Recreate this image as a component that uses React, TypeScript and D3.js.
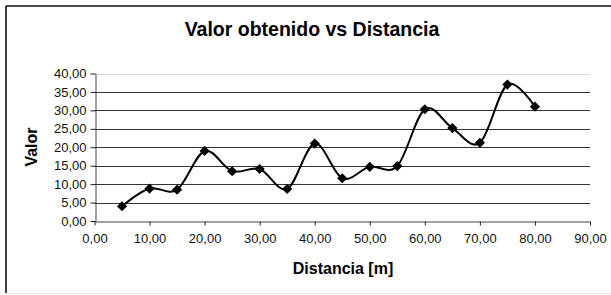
import { useEffect, useRef } from "react";
import * as d3 from "d3";

const distancias = [5, 10, 15, 20, 25, 30, 35, 40, 45, 50, 55, 60, 65, 70, 75, 80];
const valores = [4.0, 8.8, 8.5, 19.0, 13.5, 14.1, 8.7, 21.0, 11.6, 14.7, 14.9, 30.3, 25.2, 21.2, 37.0, 31.0];
const xTicks = [0, 10, 20, 30, 40, 50, 60, 70, 80, 90];
const yTicks = [0, 5, 10, 15, 20, 25, 30, 35, 40];

const W = 611;
const H = 295;
const FONT = "'Liberation Sans', Arial, sans-serif";

export default function App() {
  const svgRef = useRef<SVGSVGElement>(null);

  useEffect(() => {
    if (!svgRef.current) return;
    const svg = d3.select(svgRef.current);
    svg.selectAll("*").remove();

    const locale = d3.formatLocale({ decimal: ",", thousands: ".", grouping: [3], currency: ["", ""] });
    const fmt = locale.format(".2f");

    const x = d3.scaleLinear().domain([0, 90]).range([94.5, 590]);
    const y = d3.scaleLinear().domain([0, 40]).range([221, 73.5]);

    svg.append("rect").attr("width", W).attr("height", H).attr("fill", "#fff");

    // chart border (right side falls outside the picture)
    svg.append("line").attr("x1", 6).attr("x2", W).attr("y1", 6).attr("y2", 6)
      .attr("stroke", "#111").attr("stroke-width", 1.6);
    svg.append("line").attr("x1", 6).attr("x2", 6).attr("y1", 6).attr("y2", 293)
      .attr("stroke", "#111").attr("stroke-width", 1.6);
    svg.append("line").attr("x1", 6).attr("x2", W).attr("y1", 293.5).attr("y2", 293.5)
      .attr("stroke", "#e2e2e2").attr("stroke-width", 1);

    // gridlines
    svg.append("g").selectAll("line")
      .data(yTicks.filter((t) => t > 0))
      .enter()
      .append("line")
      .attr("x1", x(0)).attr("x2", x(90))
      .attr("y1", (d) => Math.round(y(d)) + 0.5).attr("y2", (d) => Math.round(y(d)) + 0.5)
      .attr("stroke", (d) => (d === 40 ? "#d8d8d8" : "#333"))
      .attr("stroke-width", 1);

    const axisX = svg.append("g")
      .attr("transform", `translate(0,${Math.round(y(0)) + 0.5})`)
      .call(d3.axisBottom(x).tickValues(xTicks).tickSize(4).tickSizeOuter(0).tickPadding(8).tickFormat((d) => fmt(d as number)));
    axisX.select(".domain").attr("stroke", "#444");
    axisX.selectAll(".tick line").attr("stroke", "#222");
    axisX.selectAll("text").attr("fill", "#111").attr("font-size", "13px").attr("font-family", FONT);

    const axisY = svg.append("g")
      .attr("transform", `translate(${Math.round(x(0)) + 0.5},0)`)
      .call(d3.axisLeft(y).tickValues(yTicks).tickSize(5).tickSizeOuter(0).tickPadding(4).tickFormat((d) => fmt(d as number)));
    axisY.select(".domain").attr("stroke", "#444");
    axisY.selectAll(".tick line").attr("stroke", "#222");
    axisY.selectAll("text").attr("fill", "#111").attr("font-size", "13px").attr("font-family", FONT);

    svg.append("text").attr("x", 312).attr("y", 36).attr("text-anchor", "middle")
      .attr("font-family", FONT).attr("font-weight", "bold").attr("font-size", "19.5px").attr("fill", "#000")
      .text("Valor obtenido vs Distancia");
    svg.append("text").attr("x", 343).attr("y", 274).attr("text-anchor", "middle")
      .attr("font-family", FONT).attr("font-weight", "bold").attr("font-size", "16px").attr("fill", "#000")
      .text("Distancia [m]");
    svg.append("text").attr("transform", "translate(37,147) rotate(-90)").attr("text-anchor", "middle")
      .attr("font-family", FONT).attr("font-weight", "bold").attr("font-size", "16px").attr("fill", "#000")
      .text("Valor");

    const pts = distancias.map((d, i) => ({ d, v: valores[i] }));

    const line = d3.line<{ d: number; v: number }>()
      .x((p) => x(p.d))
      .y((p) => y(p.v))
      .curve(d3.curveCardinal.tension(0));

    svg.append("path").datum(pts).attr("d", line)
      .attr("fill", "none").attr("stroke", "#000").attr("stroke-width", 2);

    const diamond = d3.symbol().type(d3.symbolDiamond2).size(66);
    svg.append("g").selectAll("path")
      .data(pts)
      .enter()
      .append("path")
      .attr("d", diamond)
      .attr("transform", (p) => `translate(${x(p.d)},${y(p.v)})`)
      .attr("fill", "#000");
  }, []);

  return (
    <svg ref={svgRef} width={W} height={H} style={{ position: "absolute", left: 0, top: 0 }} />
  );
}
